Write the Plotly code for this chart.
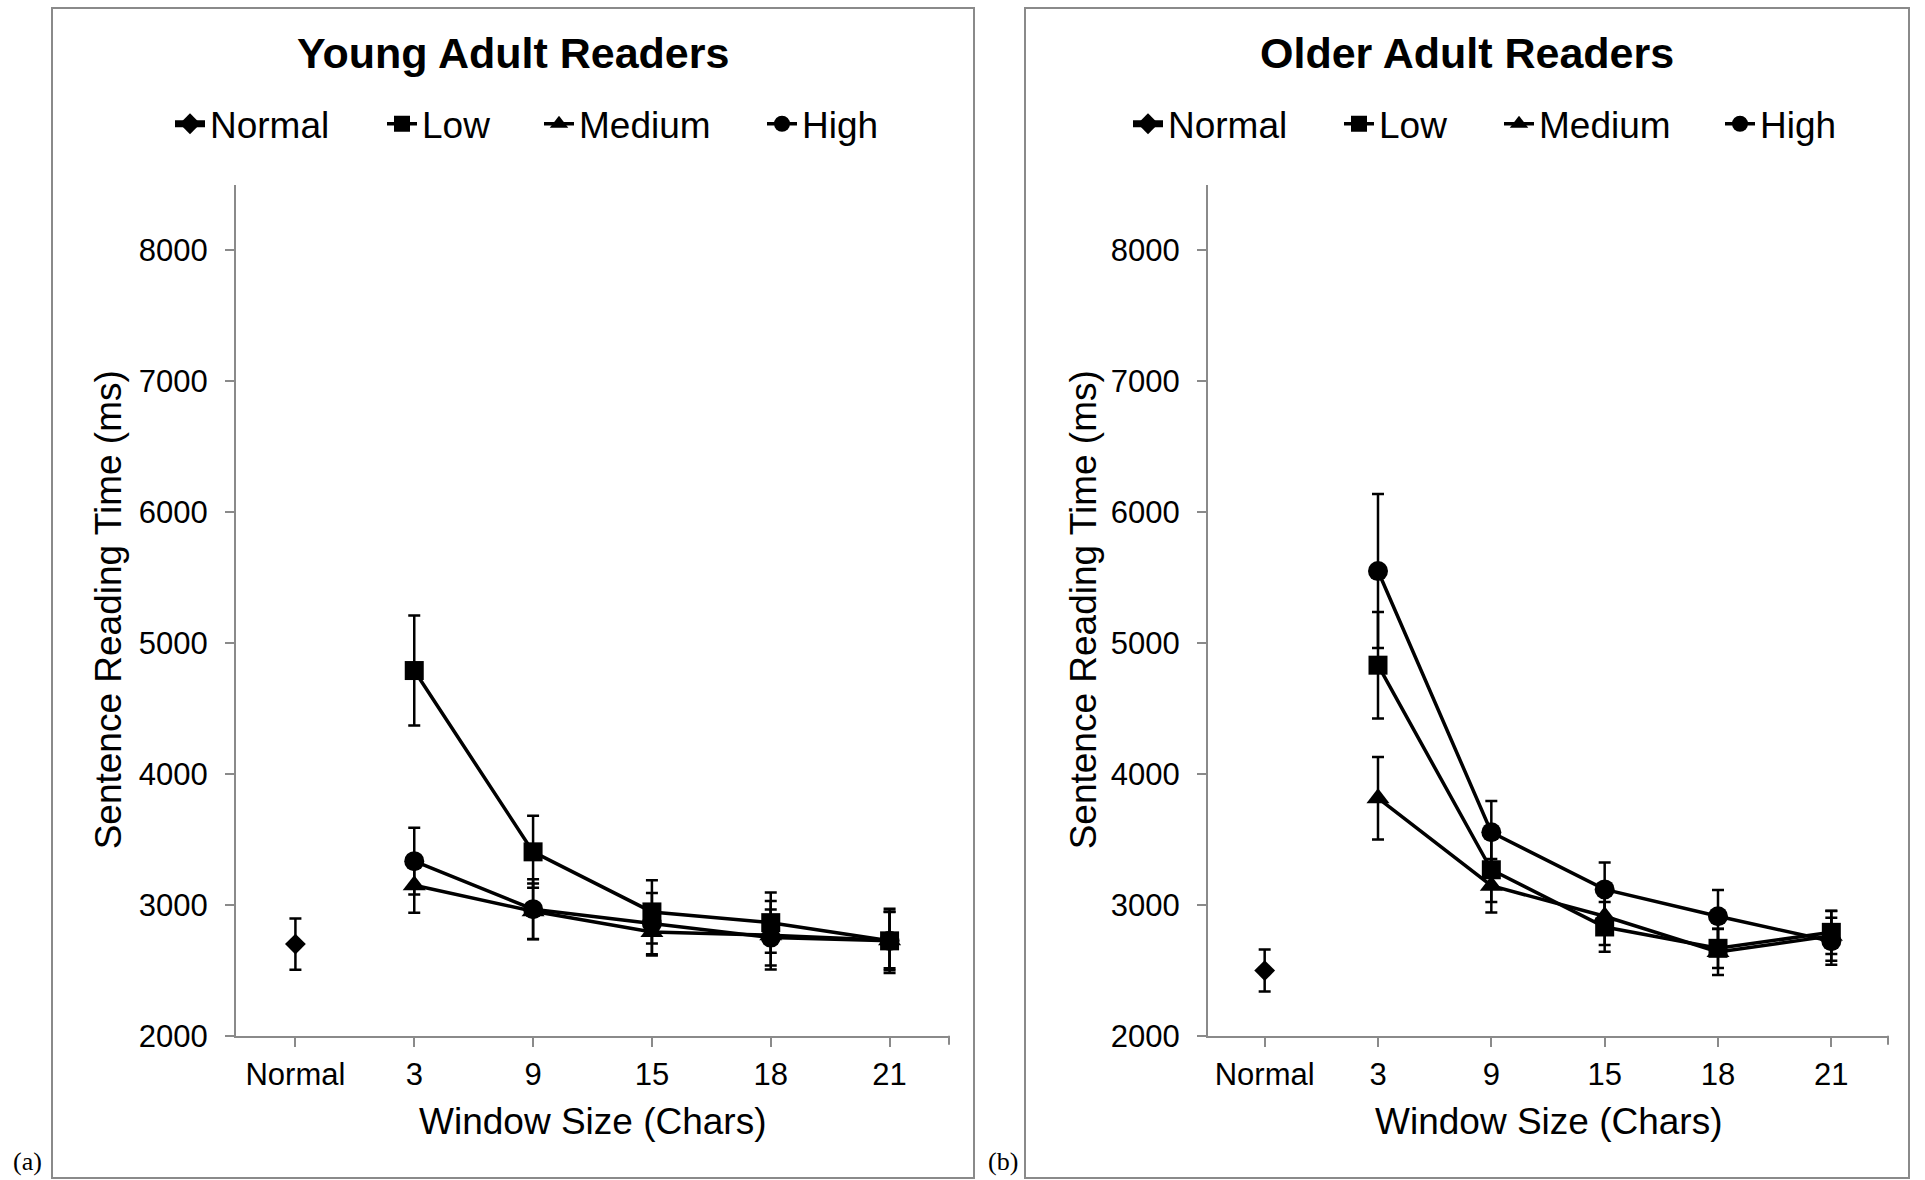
import plotly.graph_objects as go

# ---------------- data ----------------
categories = ["Normal", "3", "9", "15", "18", "21"]
window_sizes = ["3", "9", "15", "18", "21"]
series_names = ["Normal", "Low", "Medium", "High"]

young_normal = [2700]
young_normal_err = [195]
young_low = [4790, 3405, 2946, 2864, 2725]
young_low_err = [420, 275, 242, 230, 245]
young_medium = [3150, 2951, 2793, 2768, 2730]
young_medium_err = [210, 212, 180, 262, 215]
young_high = [3334, 2967, 2857, 2750, 2725]
young_high_err = [255, 229, 234, 214, 225]

older_normal = [2498]
older_normal_err = [160]
older_low = [4831, 3268, 2831, 2668, 2790]
older_low_err = [407, 246, 190, 150, 165]
older_medium = [3815, 3146, 2913, 2640, 2763]
older_medium_err = [315, 205, 219, 175, 190]
older_high = [5550, 3555, 3118, 2913, 2722]
older_high_err = [588, 238, 205, 200, 180]

y_ticks = [2000, 3000, 4000, 5000, 6000, 7000, 8000]

FONT = "Liberation Sans, Arial, sans-serif"
SERIF = "Liberation Serif, Times New Roman, serif"
GREY = "#8a8a8a"

# the captured page is 1925 x 1200; layout positions below are given on a 1925 x 1180 grid
W, H = 1925, 1200
REF_H = 1180
SY = H / REF_H


def px(x):
    return x / W


def py(y):
    return 1 - (y * SY) / H


# legend text start positions (px) for each panel
legend_text_x = [[212, 424, 581, 804], [1170, 1381, 1541, 1762]]

fig = go.Figure()

styles = {
    "Normal": dict(symbol="diamond", size=16, lw=7),
    "Low": dict(symbol="square", size=19, lw=3.5),
    "Medium": dict(symbol="triangle-up", size=20, lw=3.5),
    "High": dict(symbol="circle", size=20, lw=3.5),
}

panels = [
    ("x", "y", [young_normal, young_low, young_medium, young_high],
     [young_normal_err, young_low_err, young_medium_err, young_high_err]),
    ("x2", "y2", [older_normal, older_low, older_medium, older_high],
     [older_normal_err, older_low_err, older_medium_err, older_high_err]),
]

legend_layouts = {}
lg_idx = 0
for p, (xa, ya, vals, errs) in enumerate(panels):
    for k, name in enumerate(series_names):
        lg_idx += 1
        lg = "legend" if lg_idx == 1 else f"legend{lg_idx}"
        st = styles[name]
        xs = ["Normal"] if name == "Normal" else window_sizes
        fig.add_trace(go.Scatter(
            x=xs, y=vals[k], name=name, mode="lines+markers",
            xaxis=xa, yaxis=ya, legend=lg,
            line=dict(color="black", width=st["lw"]),
            marker=dict(symbol=st["symbol"], size=st["size"], color="black"),
            error_y=dict(type="data", array=errs[k], visible=True, color="black",
                         thickness=2.5, width=6),
        ))
        legend_layouts[lg] = dict(
            x=px(legend_text_x[p][k] - 42), xanchor="left",
            y=py(124), yanchor="middle", orientation="h",
            font=dict(family=FONT, size=37, color="black"),
            itemsizing="trace", bgcolor="rgba(0,0,0,0)",
        )

# ---------------- layout ----------------
ydom = [py(1034), py(184.6)]
x1dom = [px(236), px(949)]
x2dom = [px(1208), px(1888)]

xaxis_common = dict(
    type="category", categoryorder="array", categoryarray=categories,
    range=[-0.5, 5.5], showline=True, linecolor=GREY, linewidth=2,
    ticks="outside", ticklen=9, tickwidth=2, tickcolor=GREY,
    showgrid=False, zeroline=False, fixedrange=True,
    tickfont=dict(family=FONT, size=31, color="black"),
    ticklabelstandoff=1,
)
yaxis_common = dict(
    range=[2000, 8500], tickmode="array", tickvals=y_ticks,
    showline=True, linecolor=GREY, linewidth=2,
    ticks="outside", ticklen=9, tickwidth=2, tickcolor=GREY,
    showgrid=False, zeroline=False, fixedrange=True,
    tickfont=dict(family=FONT, size=31, color="black"),
    ticklabelstandoff=11, domain=ydom,
)

fig.update_layout(
    width=W, height=H,
    margin=dict(l=0, r=0, t=0, b=0),
    paper_bgcolor="white", plot_bgcolor="white",
    font=dict(family=FONT, color="black"),
    xaxis=dict(domain=x1dom, anchor="y", **xaxis_common),
    yaxis=dict(anchor="x", **yaxis_common),
    xaxis2=dict(domain=x2dom, anchor="y2", **xaxis_common),
    yaxis2=dict(anchor="x2", **yaxis_common),
    showlegend=True,
    **legend_layouts,
)

# panel frames
for x0, x1 in [(52, 974), (1025, 1909)]:
    fig.add_shape(type="rect", xref="paper", yref="paper",
                  x0=px(x0), x1=px(x1), y0=py(1176), y1=py(8),
                  line=dict(color=GREY, width=2), fillcolor="rgba(0,0,0,0)", layer="below")

# closing tick mark at the right end of each category axis
for xr, yr in [("x domain", "y domain"), ("x2 domain", "y2 domain")]:
    fig.add_shape(type="line", xref=xr, yref=yr, x0=1, x1=1,
                  ysizemode="pixel", yanchor=0, y0=0, y1=-9,
                  line=dict(color=GREY, width=2))

annots = [
    dict(text="<b>Young Adult Readers</b>", x=513, y=53, size=43),
    dict(text="<b>Older Adult Readers</b>", x=1467, y=53, size=43),
    dict(text="Window Size (Chars)", x=592, y=1120, size=37),
    dict(text="Window Size (Chars)", x=1548, y=1120, size=37),
]
for a in annots:
    fig.add_annotation(text=a["text"], x=px(a["x"]), y=py(a["y"]), xref="paper", yref="paper",
                       xanchor="center", yanchor="middle", showarrow=False,
                       font=dict(family=FONT, size=a["size"], color="black"))

for xc in [108, 1083]:
    fig.add_annotation(text="Sentence Reading Time (ms)", x=px(xc),
                       y=(ydom[0] + ydom[1]) / 2, xref="paper", yref="paper",
                       xanchor="center", yanchor="middle", textangle=-90,
                       showarrow=False, font=dict(family=FONT, size=37, color="black"))

for txt, xc in [("(a)", 27), ("(b)", 1003)]:
    fig.add_annotation(text=txt, x=px(xc), y=py(1160), xref="paper", yref="paper",
                       xanchor="center", yanchor="middle", showarrow=False,
                       font=dict(family=SERIF, size=26, color="black"))

fig.write_html("out.html",
               config={"displayModeBar": False},
               post_script="document.body.style.margin='0';document.body.style.overflow='hidden';")
